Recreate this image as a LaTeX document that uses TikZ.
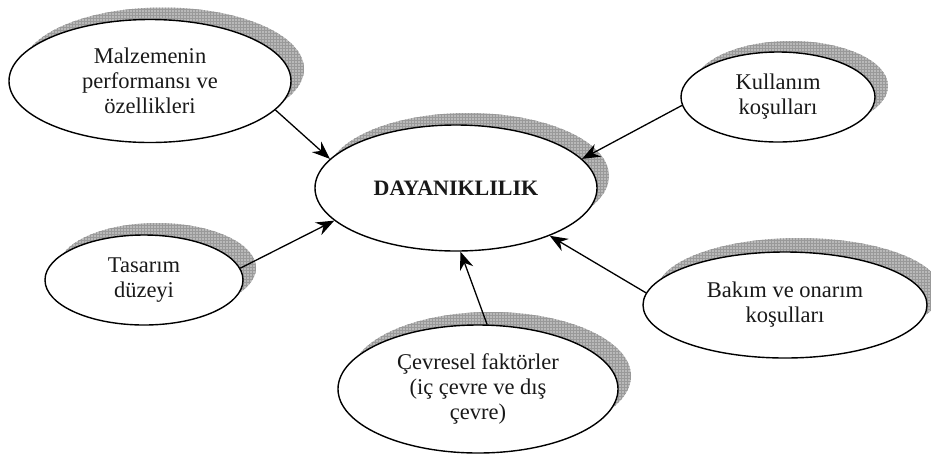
\documentclass[tikz,border=0pt]{standalone}
\usepackage{fontspec}
\setmainfont{Liberation Serif}
\usetikzlibrary{shapes.geometric,arrows.meta,patterns}
\begin{document}
\begin{tikzpicture}[x=1pt,y=-1pt,
  bubble/.style={ellipse, draw=black, line width=1.4pt, fill=white, inner sep=0pt,
    align=center, font=\fontsize{22.5}{25}\selectfont, text=black!90},
  shadowfill/.style={fill=gray!55, postaction={pattern=grid, pattern color=gray!80}},
  conn/.style={line width=1.3pt, -{Stealth[length=18pt,width=14pt,inset=6pt]}}]
\useasboundingbox (0,0) rectangle (931,459);
% shadows
\path[shadowfill] (150+13,81-12) ellipse [x radius=141, y radius=61.5];
\path[shadowfill] (456+12,188-12) ellipse [x radius=141, y radius=63];
\path[shadowfill] (778+13,97-11) ellipse [x radius=97, y radius=45];
\path[shadowfill] (785+14,305-14) ellipse [x radius=142, y radius=53];
\path[shadowfill] (144+13,280-12) ellipse [x radius=99, y radius=45];
\path[shadowfill] (478+13,389-13) ellipse [x radius=140, y radius=64];
% nodes
\node[bubble, minimum width=282pt, minimum height=123pt] (m) at (150,81) {Malzemenin\\performansı ve\\özellikleri};
\node[bubble, minimum width=282pt, minimum height=126pt, font=\fontsize{22}{25}\selectfont\bfseries] (d) at (456,188) {DAYANIKLILIK};
\node[bubble, minimum width=194pt, minimum height=90pt] (k) at (778,97) {Kullanım\\koşulları};
\node[bubble, minimum width=284pt, minimum height=106pt] (b) at (785,305) {Bakım ve onarım\\koşulları};
\node[bubble, minimum width=198pt, minimum height=90pt] (t) at (144,280) {Tasarım\\düzeyi};
\node[bubble, minimum width=280pt, minimum height=128pt] (c) at (478,389) {Çevresel faktörler\\(iç çevre ve dış\\çevre)};
% connectors
\draw[conn] (m.-13) -- (d.167);
\draw[conn] (t.7) -- (d.195);
\draw[conn] (k.185) -- (d.13);
\draw[conn] (b.175) -- (d.-27);
\draw[conn] (c.82) -- (d.-86);
\end{tikzpicture}
\end{document}
